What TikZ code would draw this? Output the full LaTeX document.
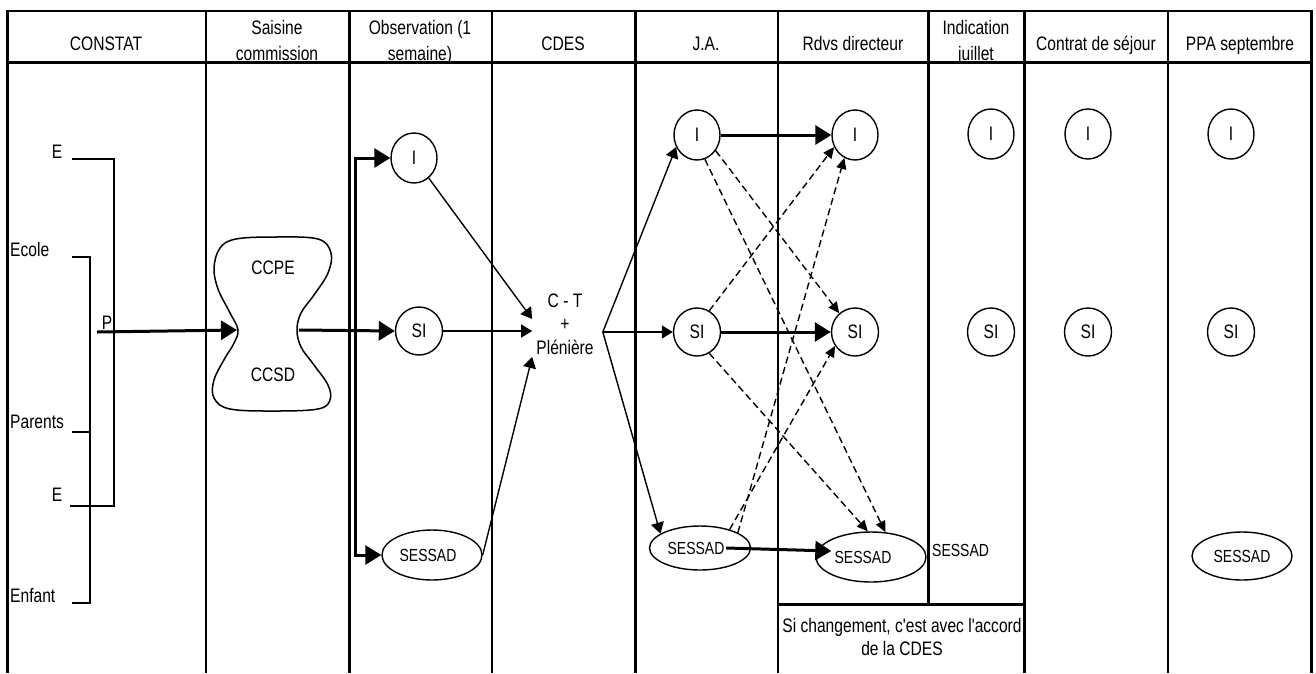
\documentclass[tikz,border=0pt]{standalone}
\usepackage{fontspec}
\setmainfont{Liberation Sans}[FakeStretch=0.8,Ligatures=TeXOff]
\usetikzlibrary{arrows.meta,shapes.geometric,calc}
\begin{document}
\begin{tikzpicture}[x=1pt,y=-1pt,
  every node/.style={font=\fontsize{19.5pt}{23pt}\selectfont, inner sep=0pt},
  frameThick/.style={line width=3pt},
  frameThin/.style={line width=1.3pt},
  bracket/.style={line width=1.5pt},
  hdr/.style={anchor=base, align=center, font=\fontsize{19.5pt}{26pt}\selectfont},
  oval/.style={ellipse, draw, line width=1.4pt, inner sep=0pt},
  circI/.style={oval, minimum width=46pt, minimum height=50pt},
  circSI/.style={oval, minimum width=47pt, minimum height=48pt},
  sesfont/.style={font=\fontsize{17.5pt}{20pt}\selectfont},
  bigarrow/.style={line width=3pt, -{Triangle[length=16pt,width=19pt]}},
  smallarrow/.style={line width=1.4pt, -{Triangle[length=11pt,width=13pt]}},
  dasharrow/.style={line width=1.4pt, dash pattern=on 7pt off 4pt, -{Triangle[length=11pt,width=10pt]}}
]
\useasboundingbox (0,0) rectangle (1316,673);

% ---------- table frame ----------
\draw[line width=2pt] (5.5,11) -- (1312.5,11);
\draw[frameThick] (5.5,62) -- (1312.5,62);
\foreach \x in {7,349,635,1024,1311} \draw[frameThick] (\x,10) -- (\x,673);
\foreach \x in {206,492,778,1168} \draw[frameThin] (\x,11) -- (\x,673);
\draw[frameThick] (928,10) -- (928,604);
\draw[frameThick] (778,604) -- (1025.5,604);

% ---------- headers (base = baseline of last line) ----------
\node[hdr] (h1) at (106,50) {CONSTAT};
\node[hdr] (h2) at (277,60) {Saisine\\commission};
\node[hdr] (h3) at (420,60) {Observation (1\\semaine)};
\node[hdr] (h4) at (563,50) {CDES};
\node[hdr] (h5) at (706,50) {J.A.};
\node[hdr] (h6) at (853,50) {Rdvs directeur};
\node[hdr] (h7) at (976,60) {Indication\\juillet};
\node[hdr] (h8) at (1096,50) {Contrat de séjour};
\node[hdr] (h9) at (1240,50) {PPA septembre};

% ---------- CONSTAT column ----------
\node[anchor=base] (lE1) at (57,158) {E};
\node[anchor=base west] (lEcole) at (10,256) {Ecole};
\node[anchor=base west] (lParents) at (10,428) {Parents};
\node[anchor=base] (lE2) at (57,501) {E};
\node[anchor=base west] (lEnfant) at (10,602) {Enfant};
\node[anchor=base] (lP) at (107,329) {P};
\draw[bracket] (72,159) -- (114,159) -- (114,506) -- (70,506);
\draw[bracket] (72,257) -- (90,257) -- (90,603) -- (72,603);
\draw[bracket] (72,432) -- (90,432);

% ---------- hourglass (Saisine) ----------
\draw[line width=1.5pt] plot[smooth cycle, tension=0.6] coordinates {
 (238,330) (229,311) (218,289) (214,268) (220,248) (236,239) (275,237) (318,239)
 (331,253) (328,273) (314,295) (301,313) (297,330) (301,347) (314,365) (328,385)
 (330,400) (318,409) (275,411) (230,409) (214,398) (214,380) (225,358) (233,345)};
\coordinate (hgL) at (237,330);
\coordinate (hgR) at (299,330);
\node (ccpe) at (273,268) {CCPE};
\node (ccsd) at (273,375) {CCSD};
\coordinate (pStart) at (97,332);
\draw[bigarrow] (pStart) -- (hgL);

% ---------- Observation ----------
\node[circI] (obsI) at (414,158) {I};
\node[circSI] (obsSI) at (419,331) {SI};
\node[oval, sesfont, minimum width=100pt, minimum height=50pt] (obsSES) at (432,555) {\hspace*{-8pt}SESSAD};
\coordinate (bus) at (355,331);
\draw[line width=3pt, {Triangle[length=16pt,width=19pt]}-{Triangle[length=16pt,width=19pt]}]
  (obsI.west) -| (bus) |- (obsSES.west);
\draw[bigarrow] (hgR) -- (obsSI.west);

% ---------- CDES ----------
\node[align=center, inner xsep=4pt, font=\fontsize{19.5pt}{23.5pt}\selectfont] (ct) at (565,324) {C - T\\+\\Plénière};
\draw[smallarrow] (obsI) -- ($(ct.west)+(0,-5)$);
\draw[smallarrow] (obsSI.east) -- (obsSI.east -| ct.west);
\draw[smallarrow] (obsSES.east) -- ($(ct.west)+(0,33)$);
\coordinate (ctOut) at ($(ct.east)+(5,8)$);

% ---------- J.A. ----------
\node[circI] (jaI) at (697,135) {I};
\node[circSI] (jaSI) at (697,332) {SI};
\node[oval, sesfont, minimum width=101pt, minimum height=44pt] (jaSES) at (700,548) {\hspace*{-8pt}SESSAD};
\draw[smallarrow] (ctOut) -- (jaI.-150);
\draw[smallarrow] (ctOut) -- (jaSI.west);
\draw[smallarrow] (ctOut) -- (jaSES.160);

% ---------- Rdvs directeur ----------
\node[circI] (rdI) at (855,135) {I};
\node[circSI] (rdSI) at (855,332) {SI};
\node[oval, sesfont, minimum width=110pt, minimum height=50pt] (rdSES) at (871,557) {\hspace*{-16pt}SESSAD};
\draw[bigarrow] (jaI.east) -- (rdI.west);
\draw[bigarrow] (jaSI.east) -- (rdSI.west);
\draw[bigarrow] ($(jaSES.east)+(-25,0)$) -- ($(rdSES.west)+(16,-6)$);
\draw[dasharrow] (jaI.-40) -- (rdSI.130);
\draw[dasharrow] (jaI.-72) -- (rdSES.60);
\draw[dasharrow] (jaSI.60) -- (rdI.-150);
\draw[dasharrow] (jaSI.-60) -- (rdSES.97);
\draw[dasharrow] (jaSES.22) -- (rdI.-115);
\draw[dasharrow] (jaSES.32) -- (rdSI.-145);
\node[align=center, anchor=base] (note) at (902,655) {Si changement, c'est avec l'accord\\de la CDES};

% ---------- Indication juillet ----------
\node[circI] (inI) at (991,134) {I};
\node[circSI] (inSI) at (991,332) {SI};
\node[sesfont, anchor=base west] (inSES) at (932,556) {SESSAD};

% ---------- Contrat de sejour ----------
\node[circI] (coI) at (1088,134) {I};
\node[circSI] (coSI) at (1088,332) {SI};

% ---------- PPA septembre ----------
\node[circI] (ppI) at (1231,134) {I};
\node[circSI] (ppSI) at (1231,332) {SI};
\node[oval, sesfont, minimum width=100pt, minimum height=48pt] (ppSES) at (1242,556) {SESSAD};
\end{tikzpicture}
\end{document}
